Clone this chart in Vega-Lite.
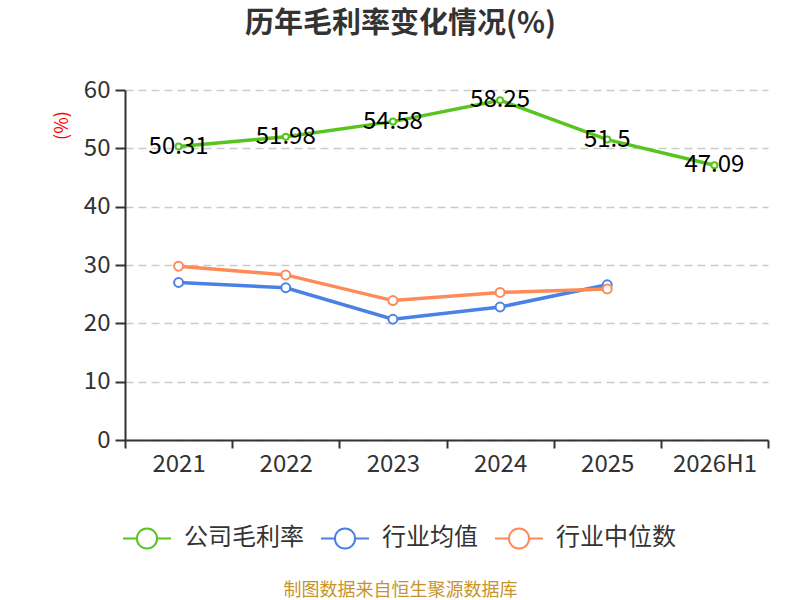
{
  "$schema": "https://vega.github.io/schema/vega-lite/v6.json",
  "width": 643,
  "height": 350,
  "autosize": "none",
  "padding": {"left": 125, "top": 90, "right": 32, "bottom": 160},
  "background": "white",
  "config": {
    "font": "Noto Sans CJK SC",
    "view": {"stroke": null}
  },
  "title": {
    "text": "历年毛利率变化情况(%)",
    "fontSize": 29,
    "fontWeight": "bold",
    "color": "#333333",
    "anchor": "middle",
    "dx": -46,
    "offset": 39
  },
  "data": {
    "values": [
      {"year": "2021", "series": "公司毛利率", "value": 50.31},
      {"year": "2022", "series": "公司毛利率", "value": 51.98},
      {"year": "2023", "series": "公司毛利率", "value": 54.58},
      {"year": "2024", "series": "公司毛利率", "value": 58.25},
      {"year": "2025", "series": "公司毛利率", "value": 51.5},
      {"year": "2026H1", "series": "公司毛利率", "value": 47.09},
      {"year": "2021", "series": "行业均值", "value": 27.0},
      {"year": "2022", "series": "行业均值", "value": 26.1},
      {"year": "2023", "series": "行业均值", "value": 20.7},
      {"year": "2024", "series": "行业均值", "value": 22.8},
      {"year": "2025", "series": "行业均值", "value": 26.6},
      {"year": "2021", "series": "行业中位数", "value": 29.8},
      {"year": "2022", "series": "行业中位数", "value": 28.3},
      {"year": "2023", "series": "行业中位数", "value": 23.9},
      {"year": "2024", "series": "行业中位数", "value": 25.3},
      {"year": "2025", "series": "行业中位数", "value": 25.9}
    ]
  },
  "encoding": {
    "x": {
      "field": "year",
      "type": "ordinal",
      "bandPosition": 0.5,
      "scale": {"type": "band", "paddingInner": 0, "paddingOuter": 0},
      "axis": {
        "title": "制图数据来自恒生聚源数据库",
        "titleColor": "#c8932c",
        "titleFontSize": 18,
        "titleFontWeight": "normal",
        "titleX": 275,
        "titleY": 150,
        "titleAnchor": "middle",
        "titleBaseline": "middle",
        "labelAngle": 0,
        "labelFontSize": 24,
        "labelColor": "#333333",
        "labelPadding": 4,
        "tickBand": "extent",
        "tickSize": 8,
        "tickColor": "#333333",
        "tickWidth": 2,
        "domainColor": "#333333",
        "domainWidth": 2,
        "grid": false
      }
    },
    "y": {
      "field": "value",
      "type": "quantitative",
      "scale": {"domain": [0, 60]},
      "axis": {
        "title": "(%)",
        "titleColor": "#ff0000",
        "titleFontSize": 18,
        "titleFontWeight": "normal",
        "titleAngle": 270,
        "titleX": -63,
        "titleY": 35,
        "titleAlign": "center",
        "titleBaseline": "middle",
        "values": [0, 10, 20, 30, 40, 50, 60],
        "labelFontSize": 24,
        "labelColor": "#333333",
        "labelPadding": 5,
        "tickSize": 10,
        "tickColor": "#333333",
        "tickWidth": 2,
        "domainColor": "#333333",
        "domainWidth": 2,
        "grid": true,
        "gridColor": "#cccccc",
        "gridDash": [8, 5],
        "gridWidth": 1.5
      }
    },
    "color": {
      "field": "series",
      "type": "nominal",
      "scale": {
        "domain": ["公司毛利率", "行业均值", "行业中位数"],
        "range": ["#58c41e", "#4b80e4", "#fe8a57"]
      },
      "legend": {
        "title": null,
        "orient": "none",
        "direction": "horizontal",
        "legendX": -3,
        "legendY": 423,
        "symbolType": "M-1,0H-0.42M0.42,0H1M-0.42,0A0.42,0.42,0,1,0,0.42,0A0.42,0.42,0,1,0,-0.42,0",
        "symbolSize": 2304,
        "symbolStrokeWidth": 2,
        "symbolFillColor": "white",
        "labelFontSize": 24,
        "labelColor": "#333333",
        "labelOffset": 12,
        "columnPadding": 13
      }
    }
  },
  "layer": [
    {
      "mark": {"type": "line", "strokeWidth": 3.5},
      "encoding": {}
    },
    {
      "mark": {"type": "point", "shape": "circle", "filled": false, "fill": "white", "strokeWidth": 2, "opacity": 1},
      "encoding": {
        "size": {
          "condition": {"test": "datum.series === '公司毛利率'", "value": 36},
          "value": 80
        }
      }
    },
    {
      "transform": [{"filter": "datum.series === '公司毛利率'"}],
      "mark": {"type": "text", "fontSize": 24, "color": "#000000", "align": "center", "baseline": "middle"},
      "encoding": {
        "text": {"field": "value", "type": "quantitative"},
        "color": {"value": "#000000"}
      }
    }
  ]
}
